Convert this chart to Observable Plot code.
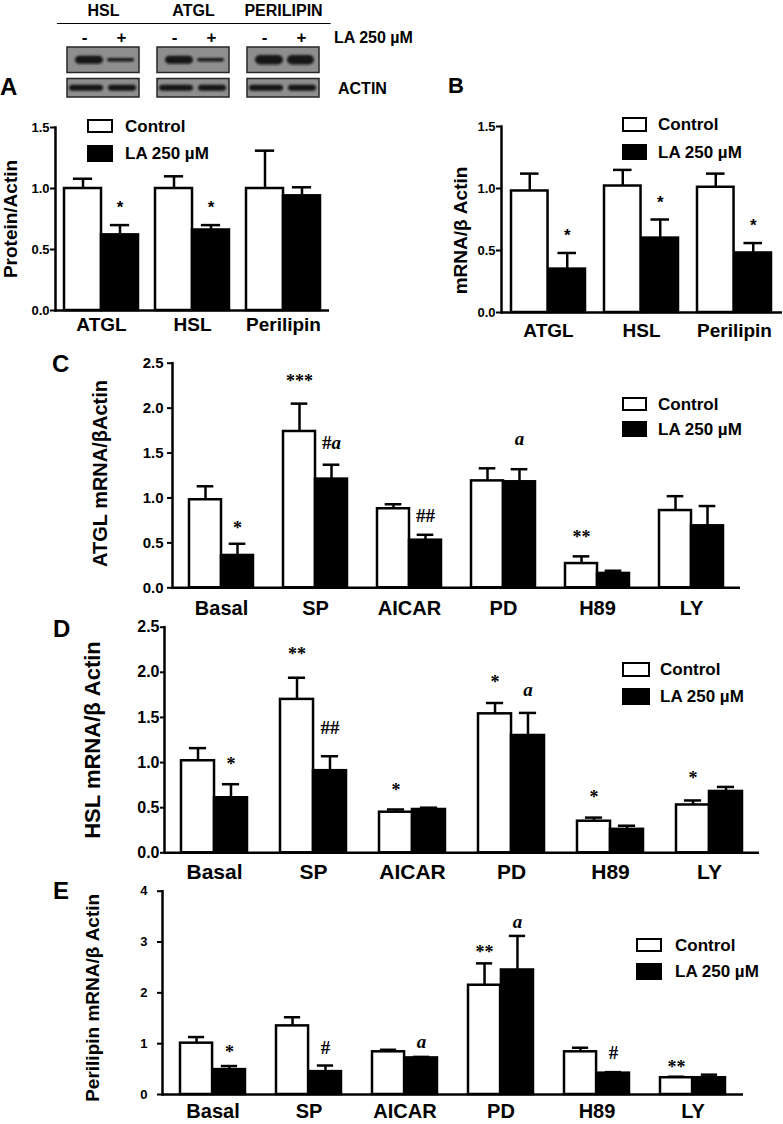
<!DOCTYPE html>
<html><head><meta charset="utf-8">
<script src="https://cdn.jsdelivr.net/npm/d3@7"></script>
<script src="https://cdn.jsdelivr.net/npm/@observablehq/plot@0.6"></script>
<style>
html,body{margin:0;padding:0;background:#fff;}
#fig{position:relative;width:783px;height:1124px;overflow:hidden;font-family:"Liberation Sans",Arial,Helvetica,sans-serif;font-weight:bold;color:#000;}
#fig svg{position:absolute;left:0;top:0;}
.t{position:absolute;white-space:nowrap;line-height:1;}
.sw{position:absolute;box-sizing:border-box;border:2.5px solid #000;}
</style></head><body><div id="fig"></div>
<script>
const W = 783, H = 1124;
const sansFont = "'Liberation Sans', Arial, Helvetica, sans-serif";
const serifFont = "'Liberation Serif', 'Times New Roman', serif";

// ---------- DATA ----------
const seriesNames = ["Control", "LA 250 µM"];
// Western blot
const blotProteins = ["HSL", "ATGL", "PERILIPIN"];
const blotRows = ["target", "actin"];
const blotLanes = ["-", "+"];
const targetIntensity = [[0.85, 0.4], [0.85, 0.4], [1.0, 1.0]];
const actinIntensity = [[0.65, 0.65], [0.65, 0.65], [0.65, 0.65]];

// Panel A : Protein/Actin
const groupsA = ["ATGL", "HSL", "Perilipin"];
const ctrlA = [1.00, 1.00, 1.00];
const ctrlErrA = [0.08, 0.10, 0.31];
const laA = [0.62, 0.66, 0.94];
const laErrA = [0.08, 0.04, 0.07];
const notesA = [{g: "ATGL", s: "L", y: 0.88, t: "*"}, {g: "HSL", s: "L", y: 0.88, t: "*"}];

// Panel B : mRNA/β Actin
const groupsB = ["ATGL", "HSL", "Perilipin"];
const ctrlB = [0.98, 1.02, 1.01];
const ctrlErrB = [0.14, 0.13, 0.11];
const laB = [0.35, 0.60, 0.48];
const laErrB = [0.13, 0.15, 0.08];
const notesB = [{g: "ATGL", s: "L", y: 0.65, t: "*"}, {g: "HSL", s: "L", y: 0.92, t: "*"}, {g: "Perilipin", s: "L", y: 0.73, t: "*"}];

// Panels C-E : treatments
const treatments = ["Basal", "SP", "AICAR", "PD", "H89", "LY"];

const ctrlC = [0.98, 1.74, 0.88, 1.19, 0.27, 0.86];
const ctrlErrC = [0.15, 0.31, 0.05, 0.14, 0.08, 0.16];
const laC = [0.36, 1.21, 0.53, 1.18, 0.16, 0.69];
const laErrC = [0.13, 0.16, 0.06, 0.14, 0.03, 0.22];
const notesC = [
  {g: "Basal", s: "L", y: 0.72, t: "*"},
  {g: "SP", s: "C", y: 2.35, t: "***"},
  {g: "SP", s: "L", y: 1.61, t: "#a"},
  {g: "AICAR", s: "L", y: 0.80, t: "##"},
  {g: "PD", s: "L", y: 1.66, t: "a"},
  {g: "H89", s: "C", y: 0.62, t: "**"}
];

const ctrlD = [1.02, 1.70, 0.45, 1.54, 0.35, 0.53];
const ctrlErrD = [0.14, 0.24, 0.03, 0.12, 0.04, 0.05];
const laD = [0.61, 0.91, 0.48, 1.30, 0.26, 0.68];
const laErrD = [0.15, 0.16, 0.02, 0.25, 0.04, 0.05];
const notesD = [
  {g: "Basal", s: "L", y: 1.04, t: "*"},
  {g: "SP", s: "C", y: 2.26, t: "**"},
  {g: "SP", s: "L", y: 1.38, t: "##"},
  {g: "AICAR", s: "C", y: 0.75, t: "*"},
  {g: "PD", s: "C", y: 1.95, t: "*"},
  {g: "PD", s: "L", y: 1.80, t: "a"},
  {g: "H89", s: "C", y: 0.67, t: "*"},
  {g: "LY", s: "C", y: 0.88, t: "*"}
];

const ctrlE = [1.01, 1.35, 0.84, 2.15, 0.84, 0.33];
const ctrlErrE = [0.12, 0.17, 0.04, 0.43, 0.08, 0.02];
const laE = [0.49, 0.45, 0.72, 2.45, 0.42, 0.33];
const laErrE = [0.07, 0.12, 0.02, 0.67, 0.02, 0.06];
const notesE = [
  {g: "Basal", s: "L", y: 0.93, t: "*"},
  {g: "SP", s: "L", y: 0.91, t: "#"},
  {g: "AICAR", s: "L", y: 1.03, t: "a"},
  {g: "PD", s: "C", y: 2.90, t: "**"},
  {g: "PD", s: "L", y: 3.40, t: "a"},
  {g: "H89", s: "L", y: 0.81, t: "#"},
  {g: "LY", s: "C", y: 0.64, t: "**"}
];

const ticks15 = [0, 0.5, 1.0, 1.5];
const ticks25 = [0, 0.5, 1.0, 1.5, 2.0, 2.5];
const ticks4 = [0, 1, 2, 3, 4];

// ---------- DRAWING ----------
const fig = document.getElementById("fig");

function styleNotes(svg) {
  svg.querySelectorAll("text").forEach(el => {
    const s = el.textContent;
    if (/^#*a$/.test(s)) {
      const hashes = s.slice(0, -1);
      el.textContent = hashes;
      const ts = document.createElementNS("http://www.w3.org/2000/svg", "tspan");
      ts.setAttribute("font-style", "italic");
      ts.setAttribute("font-weight", "bold");
      ts.textContent = "a";
      el.appendChild(ts);
    }
  });
}

function makePanel(c) {
  const n = c.groups.length;
  const step = (c.x1 - c.x0) / n;
  const bw = step * (1 - c.pad);
  const q = bw / 4;
  const cap = (bw / 2) * (c.capFrac ?? 0.52);
  const sw = c.sw ?? 2.5;
  const cRows = c.groups.map((g, i) => ({g, v: c.ctrl[i], e: c.ctrlErr[i]}));
  const lRows = c.groups.map((g, i) => ({g, v: c.la[i], e: c.laErr[i]}));
  const isStar = d => /^\*+$/.test(d.t);
  const noteMarks = [];
  for (const [s, dx] of [["C", -q], ["L", q]]) {
    const sub = c.notes.filter(d => d.s === s);
    noteMarks.push(Plot.text(sub.filter(isStar), {x: "g", y: "y", text: "t", dx, dy: c.starDy, fontSize: c.noteFont, fontFamily: c.noteFamily, lineAnchor: "middle", fill: "black"}));
    noteMarks.push(Plot.text(sub.filter(d => !isStar(d)), {x: "g", y: "y", text: "t", dx, fontSize: c.noteFont + 1, fontFamily: c.noteFamily, lineAnchor: "middle", fill: "black"}));
  }
  const svg = Plot.plot({
    width: W, height: H,
    marginLeft: c.x0, marginRight: W - c.x1, marginTop: c.yTop, marginBottom: H - c.yZero,
    x: {domain: c.groups, paddingInner: c.pad, paddingOuter: c.pad / 2},
    y: {domain: [0, c.yMax]},
    style: {background: "transparent", fontFamily: sansFont, color: "black", overflow: "visible"},
    marks: [
      Plot.barY(cRows, {x: "g", y: "v", fill: "white", stroke: "black", strokeWidth: sw, insetRight: 2 * q}),
      Plot.barY(lRows, {x: "g", y: "v", fill: "black", stroke: "black", strokeWidth: sw, insetLeft: 2 * q}),
      Plot.ruleX(cRows, {x: "g", y1: "v", y2: d => d.v + d.e, dx: -q, strokeWidth: sw}),
      Plot.ruleX(lRows, {x: "g", y1: "v", y2: d => d.v + d.e, dx: q, strokeWidth: sw}),
      Plot.tickY(cRows, {x: "g", y: d => d.v + d.e, insetLeft: q - cap / 2, insetRight: 3 * q - cap / 2, strokeWidth: sw}),
      Plot.tickY(lRows, {x: "g", y: d => d.v + d.e, insetLeft: 3 * q - cap / 2, insetRight: q - cap / 2, strokeWidth: sw}),
      Plot.ruleY([0], {strokeWidth: sw}),
      Plot.frame({anchor: "left", strokeWidth: sw}),
      Plot.axisY({ticks: c.yTicks, tickFormat: c.fmt, tickSize: c.tickSize ?? 5, tickPadding: c.yPad, fontSize: c.yFont, fontWeight: "bold", strokeWidth: 2, label: null}),
      Plot.axisX({tickSize: 0, tickPadding: c.xPad, fontSize: c.xFont, fontWeight: "bold", label: null}),
      Plot.text([c.label], {text: d => d, frameAnchor: "left", rotate: -90, dx: c.labelX - c.x0, dy: c.labelDy ?? 0, fontSize: c.labelFont, fontWeight: "bold", textAnchor: "middle", lineAnchor: "middle"}),
      ...noteMarks
    ]
  });
  styleNotes(svg);
  fig.appendChild(svg);
}

function makeBlot() {
  const x0 = 57, x1 = 329.5, yT = 47, yB = 98, bp = 0.2;
  const boxes = [];
  blotRows.forEach(r => blotProteins.forEach(p => boxes.push({p, r})));
  const bandMarks = [];
  blotProteins.forEach((p, i) => {
    blotLanes.forEach((l, j) => {
      const tT = 10 * targetIntensity[i][j];
      const tA = 10 * actinIntensity[i][j];
      const laneT = j === 0 ? [8, 36] : [40, 5];
      const laneA = j === 0 ? [2, 36] : [41, 3];
      bandMarks.push(Plot.cell([{p, r: "target"}], {x: "p", y: "r", fill: "#141414", insetLeft: laneT[0], insetRight: laneT[1], insetTop: 13 - tT / 2, insetBottom: 9.5 - tT / 2, rx: tT / 2, ariaDescription: "band"}));
      bandMarks.push(Plot.cell([{p, r: "actin"}], {x: "p", y: "r", fill: "#141414", insetLeft: laneA[0], insetRight: laneA[1], insetTop: 13 - tA / 2, insetBottom: 9.5 - tA / 2, rx: tA / 2, ariaDescription: "band"}));
    });
  });
  const laneLabels = blotProteins.map(p => ({p}));
  const svg = Plot.plot({
    width: W, height: H,
    marginLeft: x0, marginRight: W - x1, marginTop: yT, marginBottom: H - yB,
    x: {domain: blotProteins, paddingInner: bp, paddingOuter: bp / 2, axis: null},
    y: {domain: blotRows, paddingInner: 0.21, paddingOuter: 0, axis: null},
    style: {background: "transparent", fontFamily: sansFont, color: "black", overflow: "visible"},
    marks: [
      Plot.cell(boxes.filter(d => d.r === "target"), {x: "p", y: "r", fill: "#8e8e8e", stroke: "#262626", strokeWidth: 1.5, insetBottom: -3.5}),
      Plot.cell(boxes.filter(d => d.r === "actin"), {x: "p", y: "r", fill: "#8e8e8e", stroke: "#262626", strokeWidth: 1.5, insetTop: 3.5}),
      ...bandMarks,
      Plot.text(blotProteins, {x: d => d, text: d => d, frameAnchor: "top", dy: -37, fontSize: 16, fontWeight: "bold", lineAnchor: "middle"}),
      Plot.frame({anchor: "top", dy: -24, strokeWidth: 1.2}),
      Plot.text(laneLabels, {x: "p", text: () => blotLanes[0], frameAnchor: "top", dx: -19, dy: -10, fontSize: 17, fontWeight: "bold", lineAnchor: "middle"}),
      Plot.text(laneLabels, {x: "p", text: () => blotLanes[1], frameAnchor: "top", dx: 18, dy: -10, fontSize: 17, fontWeight: "bold", lineAnchor: "middle"}),
      Plot.text([seriesNames[1]], {text: d => d, frameAnchor: "top-right", dx: 4, dy: -10, fontSize: 16, fontWeight: "bold", textAnchor: "start", lineAnchor: "middle"}),
      Plot.text(["ACTIN"], {text: d => d, frameAnchor: "bottom-right", dx: 8, dy: -10, fontSize: 16, fontWeight: "bold", textAnchor: "start", lineAnchor: "middle"})
    ]
  });
  const defs = d3.select(svg).insert("defs", ":first-child");
  defs.append("filter").attr("id", "bandblur").attr("x", "-20%").attr("y", "-50%").attr("width", "140%").attr("height", "200%")
    .append("feGaussianBlur").attr("stdDeviation", 0.9);
  svg.querySelectorAll('g[aria-description="band"]').forEach(g => g.setAttribute("filter", "url(#bandblur)"));
  fig.appendChild(svg);
}

function addDiv(cls, left, top, html, css) {
  const d = document.createElement("div");
  d.className = cls;
  d.style.left = left + "px";
  d.style.top = top + "px";
  if (html != null) d.textContent = html;
  Object.assign(d.style, css || {});
  fig.appendChild(d);
  return d;
}

function legend(bx, bw, wy, wh, by, bh, tx, fs) {
  addDiv("sw", bx, wy, null, {width: bw + "px", height: wh + "px", background: "#fff"});
  addDiv("sw", bx, by, null, {width: bw + "px", height: bh + "px", background: "#000"});
  addDiv("t", tx, wy + wh / 2 - 0.49 * fs, seriesNames[0], {fontSize: fs + "px"});
  addDiv("t", tx, by + bh / 2 - 0.49 * fs, seriesNames[1], {fontSize: fs + "px"});
}

function letter(ch, left, capTop, fs) {
  addDiv("t", left, capTop - 0.13 * fs, ch, {fontSize: fs + "px"});
}

makeBlot();

makePanel({groups: groupsA, ctrl: ctrlA, ctrlErr: ctrlErrA, la: laA, laErr: laErrA, notes: notesA,
  yMax: 1.5, yTicks: ticks15, fmt: ".1f", x0: 55, x1: 329, yZero: 310, yTop: 127, pad: 0.19,
  xFont: 19, xPad: 7, yFont: 13, yPad: 1, tickSize: 5, label: "Protein/Actin", labelX: 10, labelFont: 19,
  noteFont: 17, noteFamily: sansFont, starDy: 4});

makePanel({groups: groupsB, ctrl: ctrlB, ctrlErr: ctrlErrB, la: laB, laErr: laErrB, notes: notesB,
  yMax: 1.5, yTicks: ticks15, fmt: ".1f", x0: 501, x1: 782, yZero: 312, yTop: 126, pad: 0.2,
  xFont: 19, xPad: 11, yFont: 13, yPad: 1, tickSize: 5, label: "mRNA/β Actin", labelX: 460.5, labelDy: 11, labelFont: 19,
  noteFont: 17, noteFamily: sansFont, starDy: 4});

makePanel({groups: treatments, ctrl: ctrlC, ctrlErr: ctrlErrC, la: laC, laErr: laErrC, notes: notesC,
  yMax: 2.5, yTicks: ticks25, fmt: ".1f", x0: 172, x1: 740, yZero: 587.3, yTop: 362.7, pad: 0.324,
  xFont: 20, xPad: 13, yFont: 15, yPad: 4, tickSize: 5, label: "ATGL mRNA/βActin", labelX: 100, labelDy: -2, labelFont: 20,
  noteFont: 18, noteFamily: serifFont, starDy: 5});

makePanel({groups: treatments, ctrl: ctrlD, ctrlErr: ctrlErrD, la: laD, laErr: laErrD, notes: notesD,
  yMax: 2.5, yTicks: ticks25, fmt: ".1f", x0: 164, x1: 759, yZero: 852.3, yTop: 626.7, pad: 0.335,
  xFont: 21, xPad: 11, yFont: 16, yPad: 1, tickSize: 4, label: "HSL mRNA/β Actin", labelX: 92, labelFont: 22,
  noteFont: 18, noteFamily: serifFont, starDy: 5});

makePanel({groups: treatments, ctrl: ctrlE, ctrlErr: ctrlErrE, la: laE, laErr: laErrE, notes: notesE,
  yMax: 4, yTicks: ticks4, fmt: "d", x0: 162, x1: 743, yZero: 1094, yTop: 890.7, pad: 0.32,
  xFont: 20, xPad: 9, yFont: 13, yPad: 10, tickSize: 5, label: "Perilipin mRNA/β Actin", labelX: 92, labelDy: 5, labelFont: 19,
  noteFont: 18, noteFamily: serifFont, starDy: 5});

legend(87, 26, 119, 14, 145, 17, 125, 17);
legend(622, 25, 117, 15, 144, 16, 658, 17);
legend(622, 25, 397, 14, 421, 16, 658, 17);
legend(622, 28, 662, 15, 688, 17, 660, 17);
legend(636, 26, 938, 14, 963, 17, 675, 17);

letter("A", 0, 78, 24);
letter("B", 448, 78, 22);
letter("C", 52, 355, 24);
letter("D", 53, 620, 24);
letter("E", 53, 882, 24);
</script>
</body></html>
